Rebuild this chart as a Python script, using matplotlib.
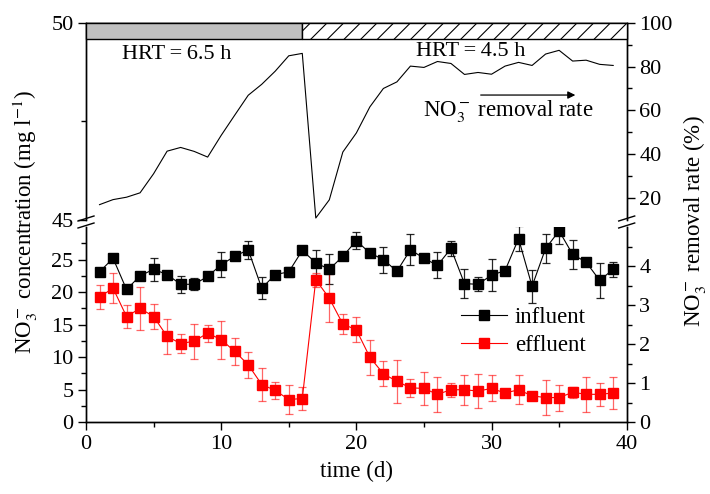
import matplotlib
matplotlib.use("Agg")
import matplotlib.pyplot as plt
from matplotlib.patches import Rectangle
from matplotlib.lines import Line2D
from matplotlib.ticker import MultipleLocator

plt.rcParams['font.family'] = ['Liberation Serif', 'DejaVu Serif']
plt.rcParams['mathtext.fontset'] = 'stix'
plt.rcParams['hatch.linewidth'] = 0.8

days = list(range(1, 40))

influent = [23.1, 25.2, 20.4, 22.5, 23.5, 22.7, 21.2, 21.2, 22.4, 24.2,
            25.5, 26.5, 20.6, 22.7, 23.1, 26.4, 24.5, 23.5, 25.5, 27.9,
            26.0, 25.0, 23.2, 26.5, 25.2, 24.1, 26.7, 21.3, 21.2, 22.6,
            23.3, 28.2, 20.9, 26.7, 29.4, 25.8, 24.6, 21.8, 23.5]
influent_err = [0.3, 0.3, 0.3, 0.3, 1.8, 0.3, 1.3, 0.9, 0.3, 1.9,
                0.3, 1.4, 1.7, 0.4, 0.8, 0.3, 1.9, 2.3, 0.3, 1.3,
                0.5, 2.0, 0.3, 2.4, 0.3, 2.0, 1.1, 2.2, 1.1, 2.5,
                0.4, 1.9, 2.5, 2.3, 2.0, 2.2, 0.4, 2.7, 1.2]

effluent = [19.25, 20.6, 16.25, 17.5, 16.25, 13.2, 12.1, 12.45, 13.7, 12.7,
            10.9, 8.84, 5.8, 4.9, 3.5, 3.65, 21.9, 19.05, 15.1, 14.2,
            10.0, 7.45, 6.3, 5.3, 5.2, 4.3, 5.0, 5.0, 4.8, 5.2,
            4.5, 5.0, 4.06, 3.8, 3.8, 4.6, 4.3, 4.3, 4.5]
effluent_err = [1.8, 2.3, 1.7, 3.3, 1.9, 2.7, 1.5, 2.7, 1.3, 2.9,
                2.1, 2.0, 2.6, 1.3, 2.2, 1.8, 1.1, 3.7, 1.5, 1.9,
                2.7, 1.9, 3.3, 1.4, 2.5, 2.7, 1.1, 2.3, 2.6, 2.0,
                0.5, 2.2, 0.6, 2.7, 2.0, 0.8, 2.7, 1.8, 2.4]

removal = [17.0, 19.3, 20.4, 22.4, 31.1, 41.4, 43.1, 41.3, 38.7, 48.6,
           57.8, 66.9, 71.9, 77.9, 84.9, 86.0, 10.9, 19.2, 41.0, 49.7,
           61.6, 70.0, 73.0, 80.2, 79.6, 82.3, 81.4, 76.4, 77.3, 76.5,
           80.2, 81.9, 80.5, 85.7, 87.4, 82.5, 82.9, 81.0, 80.5]

# HRT periods (start, end, label)
hrt_periods = [(0, 16, 'HRT\u2009=\u20096.5 h'), (16, 40, 'HRT\u2009=\u20094.5 h')]

W, H = 710, 494
fig = plt.figure(figsize=(7.1, 4.94), dpi=100)

x0, x1 = 86 / W, 626.7 / W
ax_lo = fig.add_axes([x0, 1 - 422.3 / H, x1 - x0, (422.3 - 227) / H])
ax_hi = fig.add_axes([x0, 1 - 220 / H, x1 - x0, (220 - 22.7) / H])
ax_lo_r = ax_lo.twinx()
ax_hi_r = ax_hi.twinx()

fs = 16
fl = 16.5

# lower part: concentrations
ax_lo.errorbar(days, influent, yerr=influent_err, fmt='none', ecolor='k',
               elinewidth=0.9, capsize=3, capthick=0.9, alpha=0.85)
ax_lo.errorbar(days, effluent, yerr=effluent_err, fmt='none', ecolor='red',
               elinewidth=0.9, capsize=3, capthick=0.9, alpha=0.6)
ax_lo.plot(days, influent, '-s', color='k', lw=0.8, ms=7, label='influent')
ax_lo.plot(days, effluent, '-s', color='red', lw=0.8, ms=7, label='effluent')

ax_lo.set_xlim(0, 40)
ax_lo.set_ylim(0, 30)
ax_lo.xaxis.set_major_locator(MultipleLocator(10))
ax_lo.xaxis.set_minor_locator(MultipleLocator(5))
ax_lo.set_yticks([0, 5, 10, 15, 20, 25])
ax_lo.set_yticks([2.5, 7.5, 12.5, 17.5, 22.5, 27.5], minor=True)
ax_lo_r.set_ylim(0, 5)
ax_lo_r.set_yticks([0, 1, 2, 3, 4])
ax_lo_r.set_yticks([0.5, 1.5, 2.5, 3.5, 4.5], minor=True)

ax_lo.legend(loc='upper left', bbox_to_anchor=(0.655, 0.695), frameon=False,
             fontsize=fl, handlelength=2.0, handletextpad=0.35,
             labelspacing=0.3)

# upper part: removal rate
ax_hi_r.plot(days, removal, color='k', lw=0.8)
ax_hi.set_xlim(0, 40)
ax_hi_r.set_xlim(0, 40)
ax_hi.set_ylim(45, 50)
ax_hi.set_yticks([45, 50])
ax_hi.set_yticks([47.5], minor=True)
ax_hi_r.set_ylim(10, 100)
ax_hi_r.set_yticks([20, 40, 60, 80, 100])
ax_hi_r.set_yticks([30, 50, 70, 90], minor=True)
ax_hi.set_xticks([])
ax_hi_r.set_xticks([])

for (a, b, lab), style in zip(hrt_periods, ['gray', 'hatch']):
    if style == 'gray':
        r = Rectangle((a, 92.4), b - a, 7.6, facecolor='#c0c0c0',
                      edgecolor='k', lw=1, clip_on=False, zorder=3)
    else:
        r = Rectangle((a, 92.4), b - a, 7.6, facecolor='white', hatch='//',
                      edgecolor='k', lw=1, clip_on=False, zorder=3)
    ax_hi_r.add_patch(r)

ax_hi_r.text(2.7, 85.4, hrt_periods[0][2], fontsize=fs, va='center', ha='left')
ax_hi_r.text(24.4, 86.8, hrt_periods[1][2], fontsize=fs, va='center', ha='left')
ax_hi_r.text(24.9, 59.5, 'NO$_3^-$\u2009removal rate', fontsize=fl, va='center', ha='left')
ax_hi_r.annotate('', xy=(36.2, 67), xytext=(29.2, 67),
                 arrowprops=dict(arrowstyle='-|>', color='k', lw=0.9,
                                 mutation_scale=11, shrinkA=0, shrinkB=0))

# spines and ticks
for a in (ax_lo, ax_lo_r):
    a.spines['top'].set_visible(False)
for a in (ax_hi, ax_hi_r):
    a.spines['bottom'].set_visible(False)
for a in (ax_lo, ax_lo_r, ax_hi, ax_hi_r):
    for s in a.spines.values():
        s.set_linewidth(1.0)
    a.tick_params(which='major', direction='out', length=6, width=1,
                  labelsize=fs, pad=3)
    a.tick_params(which='minor', direction='out', length=3.5, width=1)

ax_lo.set_xlabel('time (d)', fontsize=fl, labelpad=5)
fig.text(25 / W, 1 - 222 / H, 'NO$_3^-$ concentration (mg l$^{-1}$)',
         rotation=90, va='center', ha='center', fontsize=fl)
fig.text(695 / W, 1 - 221 / H, 'NO$_3^-$ removal rate (%)',
         rotation=90, va='center', ha='center', fontsize=fl)

# axis break marks
for xc in (86, 626.7):
    for yc in (218.5, 225.5):
        fig.add_artist(Line2D([(xc - 8) / W, (xc + 8) / W],
                              [1 - (yc + 2.5) / H, 1 - (yc - 2.5) / H],
                              transform=fig.transFigure, color='k', lw=1))

fig.savefig('out.png', dpi=100)
